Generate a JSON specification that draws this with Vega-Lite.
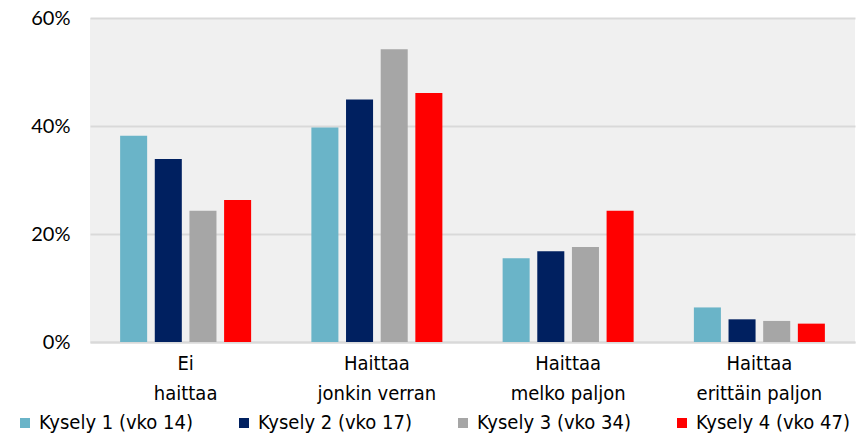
{
  "$schema": "https://vega.github.io/schema/vega-lite/v6.json",
  "width": 765,
  "height": 324,
  "autosize": {"type": "none"},
  "padding": {"left": 90, "top": 18, "right": 12, "bottom": 100},
  "background": "#ffffff",
  "data": {
    "values": [
      {"luokka": "Ei|haittaa", "kysely": "Kysely 1 (vko 14)", "osuus": 0.382},
      {"luokka": "Ei|haittaa", "kysely": "Kysely 2 (vko 17)", "osuus": 0.339},
      {"luokka": "Ei|haittaa", "kysely": "Kysely 3 (vko 34)", "osuus": 0.243},
      {"luokka": "Ei|haittaa", "kysely": "Kysely 4 (vko 47)", "osuus": 0.263},
      {"luokka": "Haittaa|jonkin verran", "kysely": "Kysely 1 (vko 14)", "osuus": 0.397},
      {"luokka": "Haittaa|jonkin verran", "kysely": "Kysely 2 (vko 17)", "osuus": 0.449},
      {"luokka": "Haittaa|jonkin verran", "kysely": "Kysely 3 (vko 34)", "osuus": 0.542},
      {"luokka": "Haittaa|jonkin verran", "kysely": "Kysely 4 (vko 47)", "osuus": 0.461},
      {"luokka": "Haittaa|melko paljon", "kysely": "Kysely 1 (vko 14)", "osuus": 0.155},
      {"luokka": "Haittaa|melko paljon", "kysely": "Kysely 2 (vko 17)", "osuus": 0.168},
      {"luokka": "Haittaa|melko paljon", "kysely": "Kysely 3 (vko 34)", "osuus": 0.176},
      {"luokka": "Haittaa|melko paljon", "kysely": "Kysely 4 (vko 47)", "osuus": 0.243},
      {"luokka": "Haittaa|erittäin paljon", "kysely": "Kysely 1 (vko 14)", "osuus": 0.064},
      {"luokka": "Haittaa|erittäin paljon", "kysely": "Kysely 2 (vko 17)", "osuus": 0.042},
      {"luokka": "Haittaa|erittäin paljon", "kysely": "Kysely 3 (vko 34)", "osuus": 0.039},
      {"luokka": "Haittaa|erittäin paljon", "kysely": "Kysely 4 (vko 47)", "osuus": 0.034}
    ]
  },
  "mark": {"type": "bar"},
  "encoding": {
    "x": {
      "field": "luokka",
      "type": "nominal",
      "sort": ["Ei|haittaa", "Haittaa|jonkin verran", "Haittaa|melko paljon", "Haittaa|erittäin paljon"],
      "scale": {"paddingInner": 0.315, "paddingOuter": 0.1575},
      "axis": {
        "title": null,
        "labelAngle": 0,
        "labelExpr": "split(datum.label, '|')",
        "labelFont": "DejaVu Sans Condensed, DejaVu Sans, sans-serif",
        "labelFontSize": 20,
        "labelLineHeight": 30,
        "labelColor": "#000000",
        "labelPadding": 11,
        "domain": true,
        "domainColor": "#d9d9d9",
        "domainWidth": 2,
        "ticks": false
      }
    },
    "xOffset": {
      "field": "kysely",
      "type": "nominal",
      "scale": {"paddingInner": 0.22, "paddingOuter": 0}
    },
    "y": {
      "field": "osuus",
      "type": "quantitative",
      "scale": {"domain": [0, 0.6], "nice": false},
      "axis": {
        "title": null,
        "format": ".0%",
        "values": [0, 0.2, 0.4, 0.6],
        "labelFont": "Lato, Open Sans, sans-serif",
        "labelFontSize": 20,
        "labelColor": "#000000",
        "labelPadding": 20,
        "domain": false,
        "ticks": false,
        "grid": true,
        "gridColor": "#d9d9d9",
        "gridWidth": 2
      }
    },
    "color": {
      "field": "kysely",
      "type": "nominal",
      "scale": {
        "domain": ["Kysely 1 (vko 14)", "Kysely 2 (vko 17)", "Kysely 3 (vko 34)", "Kysely 4 (vko 47)"],
        "range": ["#6ab4c8", "#002060", "#a6a6a6", "#ff0000"]
      },
      "legend": {
        "title": null,
        "orient": "none",
        "legendX": -75,
        "legendY": 395,
        "direction": "horizontal",
        "columns": 4,
        "columnPadding": 41,
        "symbolType": "square",
        "symbolSize": 100,
        "symbolStrokeWidth": 0,
        "labelFont": "DejaVu Sans Condensed, DejaVu Sans, sans-serif",
        "labelFontSize": 20,
        "labelColor": "#000000",
        "labelOffset": 4,
        "labelLimit": 300
      }
    }
  },
  "config": {
    "view": {"fill": "#f0f0f0", "stroke": null}
  }
}
